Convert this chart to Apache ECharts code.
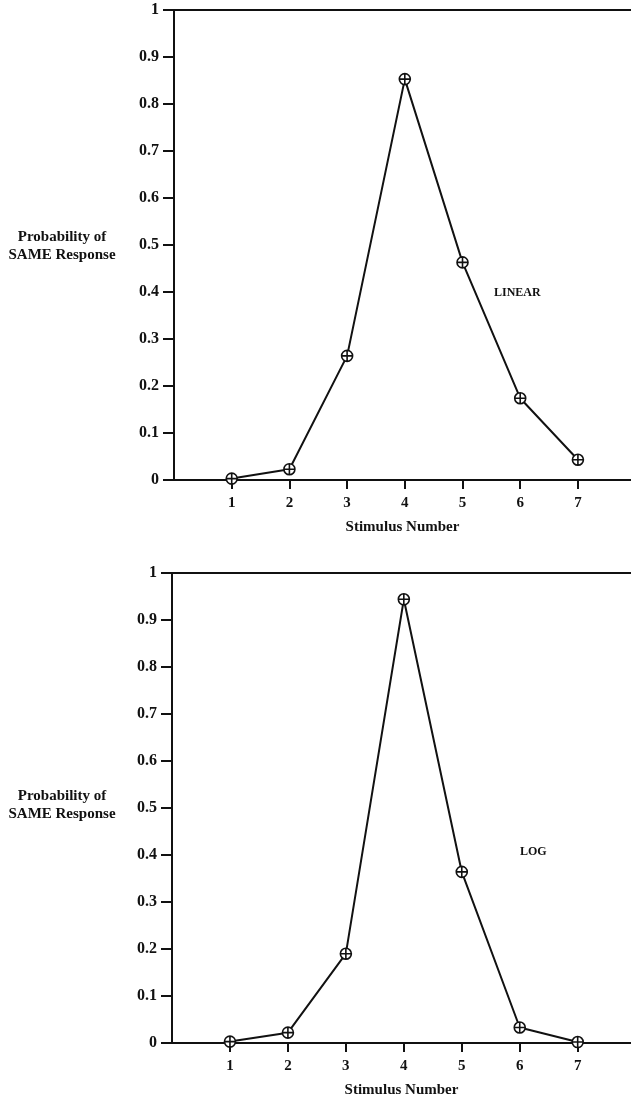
<!DOCTYPE html>
<html>
<head>
<meta charset="utf-8">
<script src="https://cdn.jsdelivr.net/npm/echarts@6/dist/echarts.min.js"></script>
<style>
html,body{margin:0;padding:0;background:#fff;}
#chart{width:631px;height:1103px;}
</style>
</head>
<body>
<div id="chart"></div>
<script>
const stimulus = [1, 2, 3, 4, 5, 6, 7];
const linearValues = [0.003, 0.023, 0.264, 0.853, 0.463, 0.174, 0.043];
const logValues = [0.003, 0.022, 0.19, 0.944, 0.364, 0.033, 0.002];
const panelLabels = ['LINEAR', 'LOG'];
const yAxisTitle = 'Probability of\nSAME Response';
const xAxisTitle = 'Stimulus Number';

const FONT = '"Liberation Serif", "DejaVu Serif", serif';
const INK = '#111';
const marker = 'path://M0,5 A5,5 0 1,1 10,5 A5,5 0 1,1 0,5 Z M5,0 L5,10 M0,5 L10,5';

const grids = [
  {left: 174, top: 10, width: 457, height: 470},
  {left: 172, top: 573, width: 459, height: 470}
];

function xAx(i) {
  return {
    type: 'value', gridIndex: i, min: 0, max: 7.92, interval: 1,
    position: 'bottom',
    name: xAxisTitle, nameLocation: 'middle', nameGap: 40,
    nameTextStyle: {fontFamily: FONT, fontWeight: 'bold', fontSize: 15, color: INK},
    axisLine: {show: true, onZero: false, lineStyle: {color: INK, width: 2}},
    axisTick: {show: true, inside: false, length: 9, customValues: stimulus, lineStyle: {color: INK, width: 2}},
    axisLabel: {
      margin: 16, fontFamily: FONT, fontWeight: 'bold', fontSize: 15, color: INK,
      customValues: stimulus,
      formatter: v => String(v)
    },
    splitLine: {show: false}
  };
}
function xTop(i) {
  return {
    type: 'value', gridIndex: i, min: 0, max: 7.92, position: 'top',
    axisLine: {show: true, onZero: false, lineStyle: {color: INK, width: 2}},
    axisTick: {show: false}, axisLabel: {show: false}, splitLine: {show: false}
  };
}
function yAx(i) {
  return {
    type: 'value', gridIndex: i, min: 0, max: 1, interval: 0.1,
    axisLine: {show: true, onZero: false, lineStyle: {color: INK, width: 2}},
    axisTick: {show: true, inside: false, length: 11, lineStyle: {color: INK, width: 2}},
    axisLabel: {margin: 15, fontFamily: FONT, fontWeight: 'bold', fontSize: 16, color: INK},
    splitLine: {show: false}
  };
}
function series(i, vals) {
  return {
    type: 'line', xAxisIndex: i * 2, yAxisIndex: i,
    data: stimulus.map((s, k) => [s, vals[k]]),
    symbol: marker, symbolSize: 11, showAllSymbol: true,
    lineStyle: {color: INK, width: 2},
    itemStyle: {color: '#fff', borderColor: INK, borderWidth: 1.6},
    z: 3
  };
}

const chart = echarts.init(document.getElementById('chart'), null, {renderer: 'canvas'});
chart.setOption({
  backgroundColor: '#fff',
  animation: false,
  grid: grids,
  xAxis: [xAx(0), xTop(0), xAx(1), xTop(1)],
  yAxis: [yAx(0), yAx(1)],
  series: [series(0, linearValues), series(1, logValues)],
  graphic: [
    {type: 'text', x: 62, y: 228, style: {text: yAxisTitle, font: 'bold 15px ' + FONT, fill: INK, align: 'center', verticalAlign: 'top', lineHeight: 18}},
    {type: 'text', x: 62, y: 787, style: {text: yAxisTitle, font: 'bold 15px ' + FONT, fill: INK, align: 'center', verticalAlign: 'top', lineHeight: 18}},
    {type: 'text', x: 494, y: 287, style: {text: panelLabels[0], font: 'bold 12px ' + FONT, fill: INK}},
    {type: 'text', x: 520, y: 846, style: {text: panelLabels[1], font: 'bold 12px ' + FONT, fill: INK}}
  ]
});
</script>
</body>
</html>
